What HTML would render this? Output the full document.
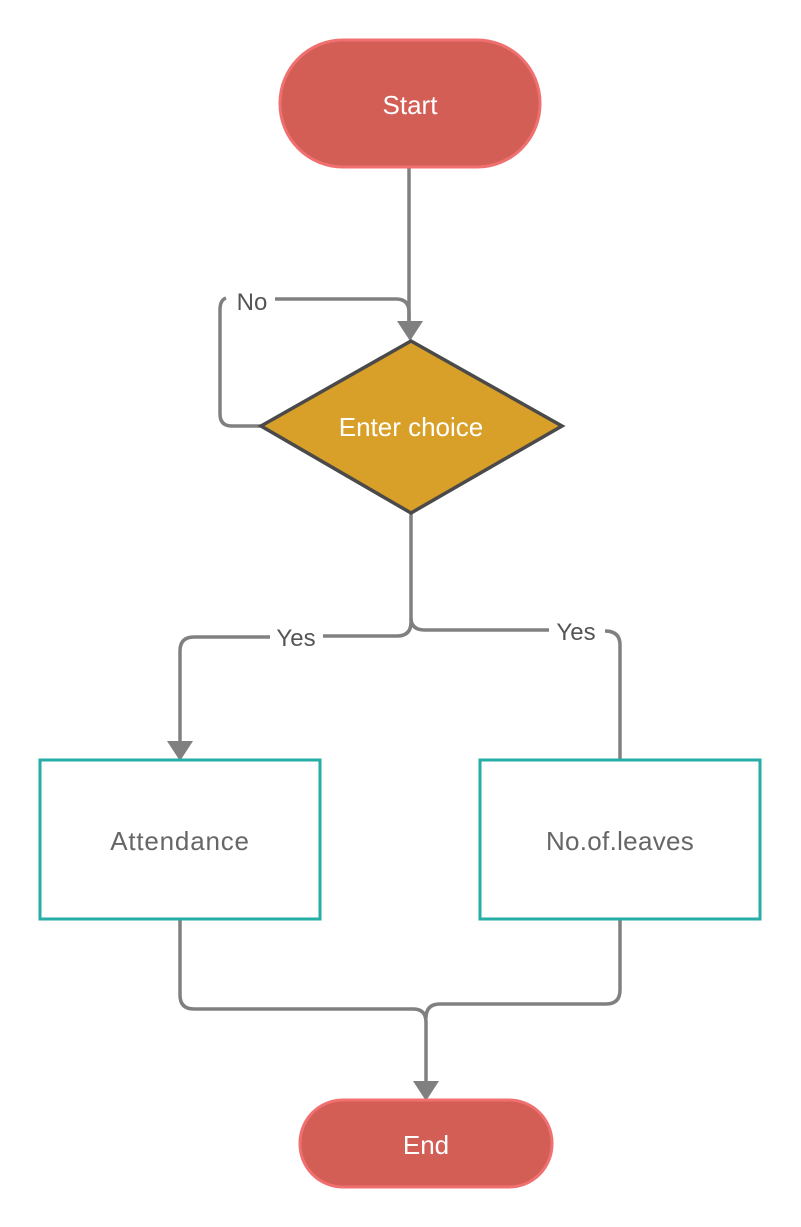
<!DOCTYPE html>
<html><head><style>
body{margin:0;background:#fff;}
svg{display:block;}
text{font-family:"Liberation Sans",sans-serif;}
</style></head><body>
<svg width="801" height="1227" viewBox="0 0 801 1227">
<rect x="0" y="0" width="801" height="1227" fill="#fff"/>
<g fill="none" stroke="#808080" stroke-width="3.5" stroke-linejoin="round">
<path d="M409 167 V322"/>
<path d="M261 426 H232 Q220 426 220 414 V310 Q220 300 226 298"/>
<path d="M275 299 H396 Q409 299 409 312 V322"/>
<path d="M411 513 V622 Q411 636 397 636 H323"/>
<path d="M270 637 H194 Q180 637 180 651 V742"/>
<path d="M411 618 Q411 630 425 630 H549"/>
<path d="M605 631 Q620 631 620 645 V760"/>
<path d="M180 919 V995 Q180 1009 194 1009 H413 Q426 1009 426 1022 V1082"/>
<path d="M620 919 V990 Q620 1004 606 1004 H440 Q426 1004 426 1018"/>
</g>
<g fill="#808080">
<polygon points="397,321 423,321 410,341"/>
<polygon points="167,741 193,741 180,761"/>
<polygon points="413,1081 439,1081 426,1101"/>
</g>
<rect x="280" y="40" width="260" height="127" rx="63" fill="#d35e56" stroke="#f07070" stroke-width="3"/>
<text x="410" y="114" font-size="26" fill="#fff" text-anchor="middle">Start</text>
<polygon points="411,341 562,426 411,513 261,426" fill="#d8a028" stroke="#4a4a4a" stroke-width="3.5"/>
<text x="411" y="436" font-size="26" fill="#fff" text-anchor="middle">Enter choice</text>
<text x="252" y="310" font-size="24" fill="#555" text-anchor="middle">No</text>
<text x="296" y="646" font-size="24" fill="#555" text-anchor="middle">Yes</text>
<text x="576" y="640" font-size="24" fill="#555" text-anchor="middle">Yes</text>
<rect x="40" y="760" width="280" height="159" fill="#fff" stroke="#26ada6" stroke-width="3"/>
<text x="180" y="850" font-size="26" letter-spacing="0.8" fill="#666" text-anchor="middle">Attendance</text>
<rect x="480" y="760" width="280" height="159" fill="#fff" stroke="#26ada6" stroke-width="3"/>
<text x="620" y="850" font-size="26" letter-spacing="0.3" fill="#666" text-anchor="middle">No.of.leaves</text>
<rect x="300" y="1100" width="252" height="87" rx="43" fill="#d35e56" stroke="#f07070" stroke-width="3"/>
<text x="426" y="1154" font-size="26" fill="#fff" text-anchor="middle">End</text>
</svg>
</body></html>
